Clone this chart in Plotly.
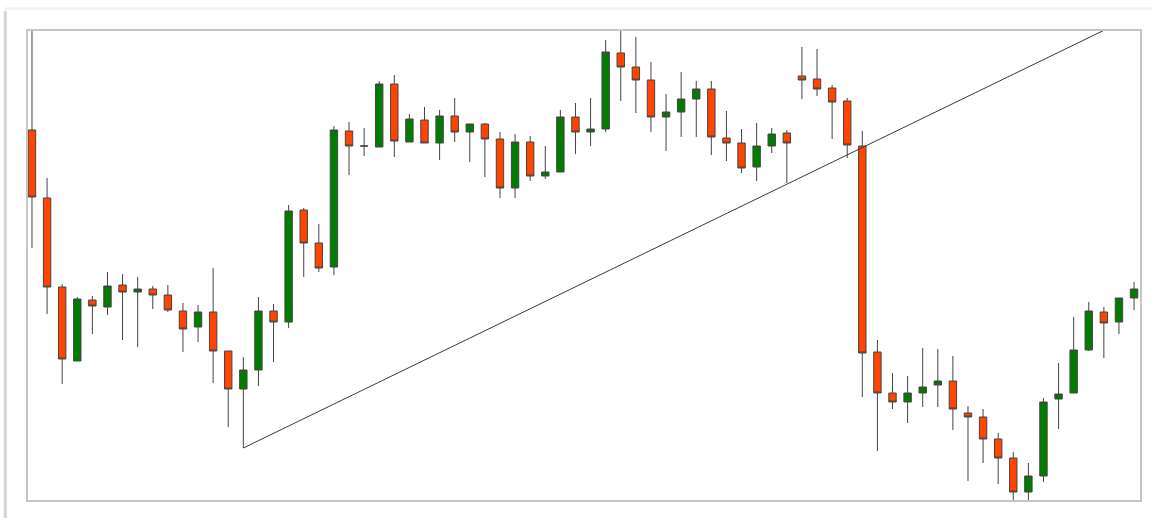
import plotly.graph_objects as go

# --- Candle data (price units) ---
candle_idx = list(range(74))

opens = [370, 302, 213, 139, 200, 193, 215, 208, 211, 205,
         189, 173, 188, 149, 111, 130, 189, 178, 290, 257,
         233, 369, 354, 353, 416, 358, 380, 357, 384, 368,
         376, 361, 312, 358, 324, 328, 383, 368, 371, 447,
         433, 420, 383, 388, 401, 411, 362, 357, 333, 354,
         367, 424, 421, 412, 399, 354, 148, 107, 98, 107,
         115, 119, 87, 83, 61, 42, 8, 24, 101, 107,
         150, 188, 178, 202]
highs = [472, 322, 216, 203, 204, 228, 226, 223, 214, 215,
         197, 195, 232, 149, 143, 203, 196, 295, 292, 276,
         374, 378, 372, 419, 425, 386, 393, 390, 402, 376,
         377, 368, 366, 364, 354, 390, 397, 402, 460, 473,
         463, 438, 406, 428, 419, 419, 389, 371, 377, 372,
         370, 453, 451, 415, 402, 369, 160, 127, 124, 152,
         151, 144, 94, 91, 67, 48, 37, 102, 137, 183,
         198, 193, 202, 218]
lows = [252, 186, 116, 139, 166, 185, 160, 153, 191, 188,
        148, 158, 117, 73, 52, 114, 138, 172, 223, 228,
        225, 325, 344, 353, 343, 358, 357, 340, 358, 338,
        323, 302, 302, 319, 321, 328, 346, 354, 368, 399,
        387, 368, 349, 363, 363, 345, 339, 327, 319, 347,
        317, 401, 404, 361, 342, 103, 49, 91, 77, 93,
        93, 70, 19, 37, 16, -3, -3, 18, 71, 107,
        149, 142, 166, 190]
closes = [303, 213, 141, 201, 194, 214, 208, 211, 205, 190,
          171, 188, 149, 111, 130, 189, 178, 289, 257, 232,
          370, 354, 354, 416, 359, 381, 357, 384, 368, 376,
          361, 312, 358, 324, 328, 383, 368, 371, 448, 433,
          420, 383, 388, 401, 411, 363, 357, 332, 354, 366,
          357, 420, 411, 398, 355, 147, 107, 98, 107, 113,
          119, 91, 83, 61, 42, 8, 24, 98, 106, 150,
          189, 177, 202, 211]

# trendline drawn from the swing low, running off the top edge
trend_x = [14, 72]
trend_y = [52, 477]

fig = go.Figure()

fig.add_trace(go.Candlestick(
    x=candle_idx, open=opens, high=highs, low=lows, close=closes,
    increasing=dict(fillcolor='#007d00', line=dict(color='#444444', width=1)),
    decreasing=dict(fillcolor='#ff4500', line=dict(color='#444444', width=1)),
    whiskerwidth=0,
    showlegend=False,
))

fig.add_trace(go.Scatter(
    x=trend_x, y=trend_y, mode='lines',
    line=dict(color='#3a3a3a', width=1),
    showlegend=False, hoverinfo='skip',
))

fig.update_layout(
    width=1152, height=518,
    margin=dict(l=27, r=11, t=30, b=17),
    paper_bgcolor='white', plot_bgcolor='white',
    xaxis=dict(range=[-0.33, 73.46], visible=False, rangeslider=dict(visible=False)),
    yaxis=dict(range=[-1, 470], visible=False),
    shapes=[
        # chart frame
        dict(type='rect', xref='paper', yref='paper', x0=0, y0=0, x1=1, y1=1,
             line=dict(color='#c6c6c6', width=2), layer='above'),
        # page edge on the left
        dict(type='line', xref='paper', yref='paper', x0=-0.0195, x1=-0.0195,
             y0=-0.04, y1=1.04, line=dict(color='#d4d4d4', width=3)),
        # faint band along the top
        dict(type='line', xref='paper', yref='paper', x0=-0.02, x1=1.01,
             y0=1.045, y1=1.045, line=dict(color='#f3f3f3', width=3)),
    ],
)

# drop the default body margin so the figure sits flush in the window
fig.write_html("out.html", config={'displayModeBar': False},
               post_script="document.body.style.margin='0';")
